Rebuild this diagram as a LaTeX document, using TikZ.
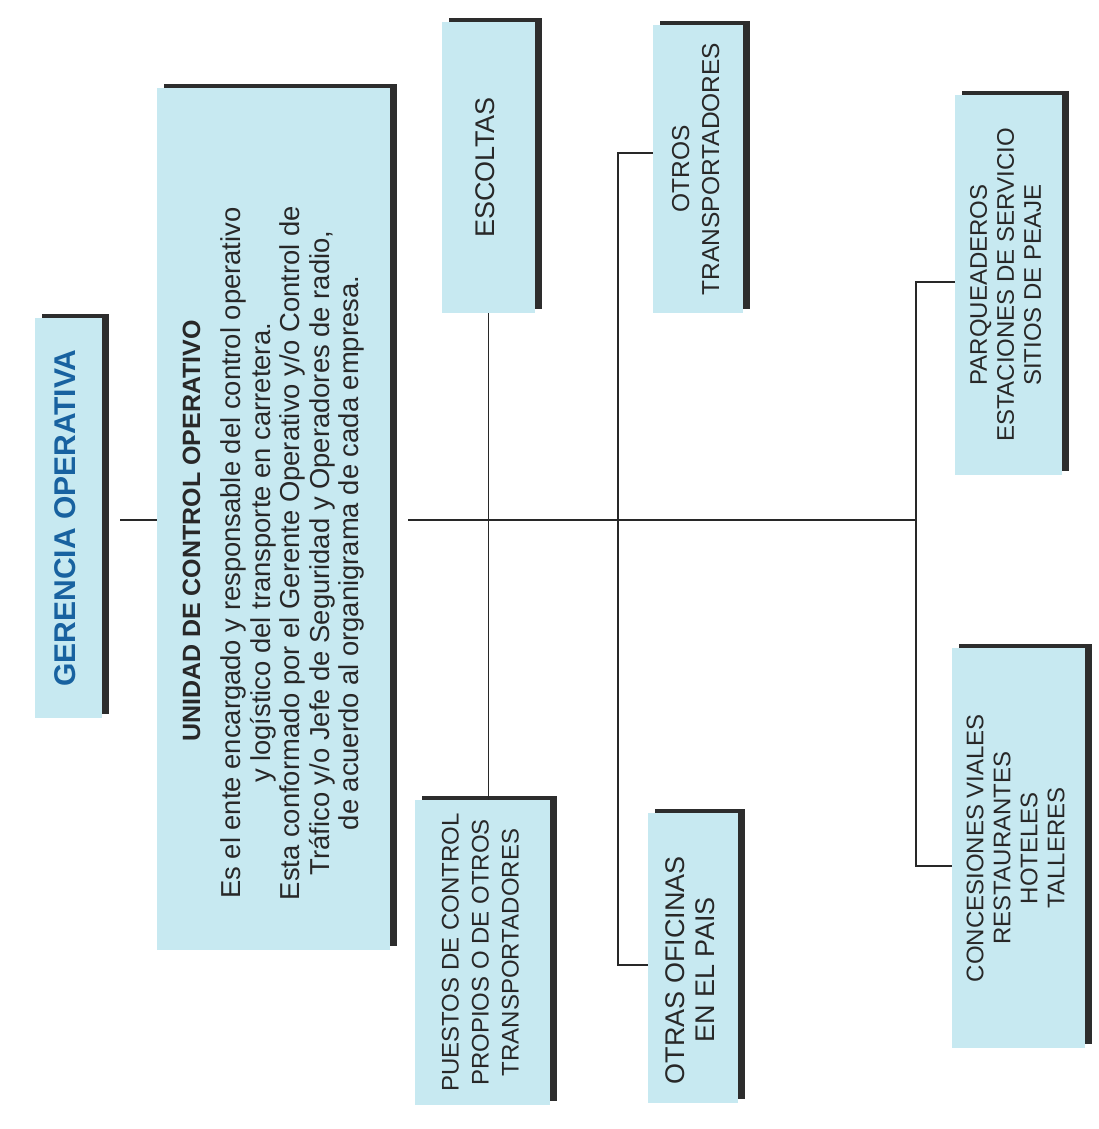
\documentclass[tikz,border=0pt]{standalone}
\usepackage{fontspec}
\setmainfont{Liberation Sans}
\usepackage{graphicx}
\usetikzlibrary{shadows, positioning}

\definecolor{boxblue}{RGB}{199,233,241}
\definecolor{gerblue}{RGB}{24,98,160}
\definecolor{inkgray}{RGB}{40,40,40}
\definecolor{shadegray}{RGB}{45,45,45}

\newcommand{\vtext}[1]{\rotatebox{90}{\begin{tabular}{@{}c@{}}#1\end{tabular}}}

\tikzset{
    unit/.style={fill=boxblue, inner sep=0pt, text=inkgray,
        drop shadow={shadow xshift=7pt, shadow yshift=4pt, fill=shadegray, opacity=1}},
    link/.style={draw=inkgray, line width=1.6pt},
}

\begin{document}
\begin{tikzpicture}[x=1pt, y=-1pt]
    \useasboundingbox (0,0) rectangle (1099,1129);

    \node[unit, minimum width=67pt, minimum height=400pt, text=gerblue,
        font=\fontsize{30}{36}\selectfont\bfseries] (ger) at (68.5,518) {\vtext{GERENCIA OPERATIVA}};
    \node[unit, minimum width=233pt, minimum height=862pt,
        font=\fontsize{27.4}{29.5}\selectfont] (uco) at (273.5,519) {\rotatebox{90}{%
        \begin{tabular}{@{}c@{\hspace{44pt}}}
        \multicolumn{1}{@{}c@{}}{\fontsize{25}{30}\selectfont\bfseries UNIDAD DE CONTROL OPERATIVO}\\[11pt]
        Es el ente encargado y responsable del control operativo\\
        y logístico del transporte en carretera.\\
        Esta conformado por el Gerente Operativo y/o Control de\\
        Tráfico y/o Jefe de Seguridad y Operadores de radio,\\
        de acuerdo al organigrama de cada empresa.
        \end{tabular}\hspace*{24pt}}};

    \node[unit, minimum width=93pt, minimum height=291pt,
        font=\fontsize{27}{30}\selectfont] (esc) at (488.5,167.5) {\vtext{ESCOLTAS}};
    \node[unit, minimum width=135pt, minimum height=305pt,
        font=\fontsize{24}{30}\selectfont] (pue) at (482.5,952.5) {\vtext{PUESTOS DE CONTROL\\PROPIOS O DE OTROS\\TRANSPORTADORES}};
    \node[unit, minimum width=90pt, minimum height=288pt,
        font=\fontsize{24.5}{30}\selectfont] (otr) at (698,169) {\vtext{OTROS\\TRANSPORTADORES}};
    \node[unit, minimum width=90pt, minimum height=290pt,
        font=\fontsize{27}{30}\selectfont] (ofi) at (693,958) {\rotatebox{90}{%
        \begin{tabular}{@{}c@{}}OTRAS OFICINAS\\EN EL PAIS\end{tabular}\hspace*{24pt}}};
    \node[unit, minimum width=107pt, minimum height=380pt,
        font=\fontsize{24}{27}\selectfont] (par) at (1008.5,285) {\vtext{PARQUEADEROS\\ESTACIONES DE SERVICIO\\SITIOS DE PEAJE}};
    \node[unit, minimum width=133pt, minimum height=400pt,
        font=\fontsize{24}{27}\selectfont] (con) at (1018.5,848) {\vtext{CONCESIONES VIALES\\RESTAURANTES\\HOTELES\\TALLERES}};

    \coordinate (hub) at (916,520);
    \coordinate (midtop) at (618,153);
    \coordinate (midbot) at (618,965);
    \coordinate (righttop) at (916,282);
    \coordinate (rightbot) at (916,866);

    \draw[link, shorten <=18pt] (ger.east |- hub) -- (uco.west |- hub);
    \draw[link, shorten <=18pt] (uco.east |- hub) -- (hub);
    \draw[link] (esc.south) -- (esc.south |- pue.north);
    \draw[link] (otr.west |- midtop) -- (midtop) -- (midbot) -- (ofi.west |- midbot);
    \draw[link] (par.west |- righttop) -- (righttop) -- (rightbot) -- (con.west |- rightbot);
\end{tikzpicture}
\end{document}
